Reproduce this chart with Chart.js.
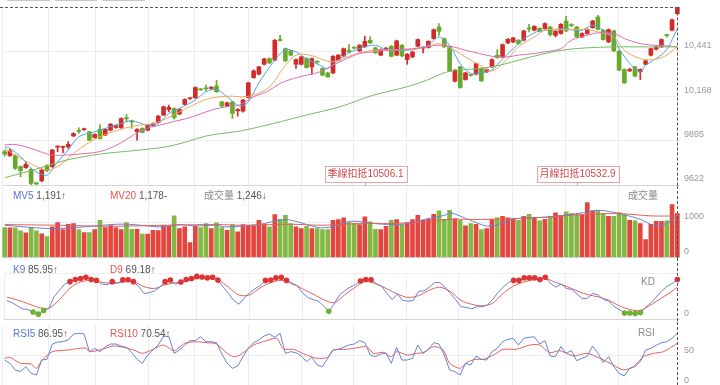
<!DOCTYPE html>
<html>
<head>
<meta charset="utf-8">
<script src="https://cdn.jsdelivr.net/npm/chart.js@4.4.0/dist/chart.umd.min.js"></script>
<style>
body { margin: 0; width: 720px; height: 385px; overflow: hidden; background: #fff; position: relative;
       font-family: "Liberation Sans", "Noto Sans CJK TC", sans-serif; }
canvas { position: absolute; left: 0; }
.lg { position: absolute; font-size: 10px; line-height: 12px; color: #555; white-space: nowrap; }
.b { color: #5a74d2; }
.r { color: #e0574f; }
.g { color: #888; }
.tab { position: absolute; top: 0; height: 1px; background: #c8c8c8; }
</style>
</head>
<body>
<div class="tab" style="left:7px;width:43px"></div>
<div class="tab" style="left:55px;width:42px"></div>
<div class="tab" style="left:102px;width:43px"></div>

<canvas id="priceChart" width="720" height="186" style="top:0"></canvas>
<canvas id="volChart" width="720" height="72" style="top:186px"></canvas>
<canvas id="kdChart" width="720" height="65" style="top:258px"></canvas>
<canvas id="rsiChart" width="720" height="66" style="top:322px"></canvas>

<div class="lg" style="left:13px;top:190px"><span class="b">MV5</span> 1,191↑</div>
<div class="lg" style="left:110px;top:190px"><span class="r">MV20</span> 1,178-</div>
<div class="lg" style="left:204px;top:190px"><span class="g">成交量</span> 1,246↓</div>
<div class="lg g" style="left:628px;top:190px">成交量</div>
<div class="lg" style="left:13px;top:264px"><span class="b">K9</span> 85.95↑</div>
<div class="lg" style="left:110px;top:264px"><span class="r">D9</span> 69.18↑</div>
<div class="lg g" style="left:641px;top:276px">KD</div>
<div class="lg" style="left:13px;top:328px"><span class="b">RSI5</span> 86.95↑</div>
<div class="lg" style="left:110px;top:328px"><span class="r">RSI10</span> 70.54↑</div>
<div class="lg g" style="left:638px;top:327px">RSI</div>

<script>
// Daily candles
const opens = [9827,9802,9802,9735,9728,9718,9636,9647,9741,9735,
  9855,9853,9857,9923,9955,9962,9949,9914,9964,9929,
  9959,9976,9974,10033,10013,9949,9970,9959,9986,10007,
  10052,10086,10092,10058,10117,10152,10158,10211,10217,10215,
  10231,10133,10107,10133,10078,10076,10160,10282,10303,10364,
  10399,10389,10514,10460,10446,10364,10364,10399,10348,10381,
  10338,10311,10311,10389,10415,10450,10467,10446,10471,10512,
  10465,10420,10458,10475,10420,10481,10393,10409,10475,10463,
  10467,10522,10593,10522,10471,10260,10348,10270,10299,10303,
  10338,10317,10348,10420,10409,10495,10501,10512,10512,10585,
  10573,10585,10583,10593,10542,10553,10630,10606,10593,10532,
  10553,10589,10655,10573,10501,10569,10444,10332,10323,10348,
  10317,10364,10420,10456,10471,10544,10573,10675];
const highs = [9837,9841,9808,9740,9765,9724,9640,9720,9748,9841,
  9863,9861,9888,9943,9974,9972,9953,9937,9994,9968,
  10000,9994,10035,10056,10021,9968,9974,9994,10004,10050,
  10107,10113,10096,10090,10152,10160,10225,10215,10236,10227,
  10266,10137,10131,10137,10092,10148,10254,10330,10352,10401,
  10403,10516,10542,10464,10450,10397,10413,10403,10403,10385,
  10342,10315,10417,10424,10464,10485,10471,10485,10538,10532,
  10469,10458,10466,10479,10512,10485,10430,10444,10520,10471,
  10509,10581,10614,10526,10475,10332,10352,10315,10303,10372,
  10342,10336,10397,10454,10489,10522,10530,10516,10573,10610,
  10601,10589,10618,10597,10571,10614,10659,10614,10597,10557,
  10583,10634,10665,10577,10581,10573,10448,10336,10340,10352,
  10336,10389,10464,10475,10520,10550,10642,10716];
const lows = [9800,9798,9718,9673,9724,9622,9622,9642,9704,9730,
  9827,9820,9847,9919,9939,9958,9894,9910,9904,9925,
  9955,9972,9970,10011,9970,9898,9941,9955,9982,10003,
  10048,10072,10027,10054,10113,10148,10154,10203,10201,10211,
  10191,10103,10103,10031,10045,10070,10156,10278,10299,10360,
  10368,10385,10506,10381,10416,10338,10360,10340,10303,10370,
  10293,10283,10307,10385,10411,10436,10459,10442,10467,10491,
  10430,10416,10454,10409,10416,10411,10364,10405,10471,10434,
  10463,10518,10542,10467,10319,10256,10217,10266,10291,10299,
  10258,10313,10344,10401,10405,10491,10497,10487,10508,10563,
  10569,10563,10579,10538,10532,10549,10565,10595,10528,10528,
  10549,10585,10575,10512,10497,10442,10324,10246,10319,10287,
  10270,10360,10416,10452,10467,10530,10569,10671];
const closes = [9812,9831,9724,9710,9749,9632,9628,9714,9710,9837,
  9859,9857,9872,9939,9951,9966,9898,9933,9908,9964,
  9996,9986,10031,10029,10009,9964,9945,9990,10000,10045,
  10103,10099,10037,10086,10148,10156,10221,10207,10213,10223,
  10195,10107,10127,10062,10086,10144,10250,10323,10348,10397,
  10372,10512,10510,10385,10420,10393,10409,10344,10399,10377,
  10297,10287,10413,10420,10460,10440,10463,10481,10505,10495,
  10434,10454,10462,10413,10508,10415,10426,10440,10516,10467,
  10505,10577,10567,10471,10323,10328,10221,10311,10295,10368,
  10262,10332,10393,10405,10485,10518,10526,10491,10569,10581,
  10597,10567,10614,10546,10567,10610,10569,10602,10532,10553,
  10579,10630,10579,10516,10577,10446,10328,10250,10332,10291,
  10332,10385,10460,10471,10516,10540,10638,10716];
const volumes = [849,840,840,755,698,859,755,670,594,868,
  991,793,944,963,793,708,708,793,1057,849,
  906,849,793,991,802,802,661,661,774,764,
  915,887,1180,821,868,424,887,849,963,821,
  982,849,774,934,727,934,887,896,1057,934,
  868,1217,1085,1199,963,868,821,887,821,821,
  793,793,1057,1076,1123,991,963,934,1151,1010,
  802,793,887,1057,1076,934,991,1076,1199,1057,
  1085,1227,1321,1085,1340,1104,1057,896,963,944,
  793,821,1076,1123,1170,1123,1104,1057,1170,1227,
  1123,1038,1085,1170,1265,1199,1293,1246,1227,1199,
  1557,1321,1340,1246,1170,1170,1274,1218,1057,1038,
  963,510,944,1029,1029,1038,1501,1246];

// Moving averages as [candle, value]
const ma5 = [[0,9857],[1,9847],[3,9796],[5.4,9714],[8,9683],[10,9765],[12,9837],[14,9919],[17,9949],[19,9970],
  [22,10000],[24,10017],[27,9990],[29,10000],[31,10062],[33,10092],[36,10144],[38,10195],[40,10209],[42,10164],
  [44.4,10107],[46,10133],[48,10250],[51,10389],[53,10454],[55,10440],[57,10399],[59.5,10358],[61,10338],[63,10389],
  [65,10434],[68,10471],[70,10481],[72,10454],[75,10450],[77,10454],[80,10481],[82,10532],[84,10481],[86,10368],
  [88,10307],[90,10312],[92,10328],[93.5,10379],[96,10460],[98.6,10532],[101,10569],[103.6,10577],[106,10583],
  [108.6,10569],[111,10604],[113,10573],[115,10532],[116,10460],[118,10370],[120,10317],[121,10358],[123,10399],
  [125,10454],[127,10583]];
const ma10 = [[0,9847],[3,9786],[5.4,9745],[8,9714],[10.5,9745],[13,9816],[15.5,9874],[18,9919],[20.5,9949],
  [23,9974],[25.5,9990],[28,10000],[30.6,10031],[33,10072],[35.6,10113],[38,10148],[40.6,10164],[43,10168],
  [44.4,10164],[47,10174],[50,10225],[52.6,10340],[55,10420],[57.6,10420],[60,10393],[62,10379],[64.6,10409],
  [67,10434],[69.6,10450],[72,10450],[74.6,10454],[77,10454],[79.7,10471],[82,10491],[84.7,10454],[87,10409],
  [89.7,10358],[92,10323],[95,10399],[97,10471],[100,10532],[102,10573],[105,10577],[107,10577],[110,10577],
  [112,10563],[115,10532],[117,10450],[120,10399],[122.5,10393],[125,10420],[127,10475]];
const ma20 = [[0,9867],[1.6,9872],[4,9857],[6.7,9827],[9,9806],[11.7,9806],[14,9812],[16.7,9820],[19,9837],
  [21.8,9878],[24.3,9929],[26.8,9970],[29.3,9990],[31.8,10011],[34.4,10031],[36.9,10058],[39.4,10086],
  [41.9,10103],[44.4,10115],[47,10164],[49.5,10195],[52,10246],[54.5,10276],[57,10297],[59.5,10317],[62,10358],
  [64.6,10399],[67,10430],[69.6,10440],[72,10450],[74.6,10454],[77,10460],[79.7,10471],[82,10481],[84.7,10471],
  [87,10450],[89.7,10430],[92,10413],[94.8,10409],[97,10420],[100,10430],[102,10440],[105,10460],[107,10512],
  [110,10542],[112,10557],[115,10553],[117,10522],[120,10491],[122.5,10481],[125,10477],[127,10471]];
const ma60 = [[0,9667],[5.4,9714],[11.7,9775],[18,9812],[24.3,9833],[30.6,9857],[34.4,9888],[38,9923],[42,9943],
  [44.4,9953],[50.7,10000],[57,10052],[63.3,10103],[69.6,10174],[75.9,10225],[79.7,10266],[83.5,10317],
  [87.2,10332],[89.7,10338],[93.5,10358],[97,10389],[102,10430],[106,10454],[110,10465],[115,10471],
  [120,10471],[127,10471]];

// Volume averages
const mv5 = [[0,915],[8.6,821],[14.9,868],[21.1,944],[24.3,934],[29.3,868],[33.1,934],[35.6,896],[40,915],
  [41.6,868],[47.9,934],[52.9,1076],[55.4,1010],[59.2,849],[61.7,868],[65.5,1029],[69.9,963],[73.1,934],
  [76.2,963],[79.4,1085],[83.1,1199],[84.1,1274],[87.9,1057],[91.6,887],[96.7,1104],[103,1151],[109.3,1274],
  [112.4,1340],[116.8,1218],[120,1085],[122.5,915],[124.4,934],[126.3,1104],[127,1191]];
const mv20 = [[0,934],[10,915],[20,887],[30,915],[40,934],[45,915],[54,944],[60,915],[67,963],[73,963],
  [79,1010],[84,1080],[90,1080],[97,1104],[103,1151],[109,1218],[116,1246],[122,1180],[127,1178]];

// KD
const k9 = [40.2,35.5,28.7,22.0,20.6,15.3,10.5,18.6,23.3,48.9,
  62.4,75.8,81.2,85.9,87.9,90.6,85.9,83.9,75.8,74.5,
  81.2,77.8,85.3,85.3,81.2,70.4,55.6,57.0,61.0,69.1,
  81.2,84.6,75.8,80.5,85.9,87.9,92.6,91.3,89.3,90.6,
  84.6,69.1,55.6,40.2,32.1,45.5,57.0,65.7,72.5,83.9,
  84.6,89.3,90.6,83.9,75.8,72.5,57.0,46.9,42.2,38.8,
  28.7,16.6,32.1,52.3,61.0,69.1,74.5,82.6,85.9,85.3,
  77.2,71.1,55.6,42.2,54.3,40.2,38.8,40.2,60.4,61.0,
  69.1,79.2,79.2,69.1,55.6,42.2,26.7,25.4,22.0,26.7,
  26.7,30.1,42.2,57.0,69.1,79.2,83.9,83.9,89.3,89.3,
  89.3,85.9,90.6,77.2,69.1,75.8,66.4,64.4,54.3,44.2,
  45.5,55.6,52.3,42.2,38.8,27.4,20.6,13.2,13.2,11.9,
  13.9,25.4,35.5,47.6,61.0,70.4,77.2,85.95];
const d9 = [[0,47.6],[2,41.5],[4,33.4],[6,25.4],[8,23.3],[10,42.2],[12,67.1],[14,80.5],[16,83.9],[18,79.9],
  [20,77.2],[22,79.9],[24,81.2],[26,70.4],[28,66.4],[30,74.5],[32,78.5],[34,82.6],[36,87.9],[38,89.3],
  [40,85.3],[42,69.1],[44,52.0],[46,52.3],[48,67.8],[50,79.2],[52,83.9],[54,78.5],[56,65.7],[58,54.3],
  [60,42.2],[62,35.5],[64,52.3],[66,69.1],[68,81.9],[70,75.8],[72,65.7],[74,54.3],[76,46.9],[78,50.9],
  [80,62.4],[82,69.1],[84,59.7],[86,40.8],[88,32.1],[90,28.7],[92,34.1],[94,55.6],[96,71.8],[98,80.5],
  [100,85.9],[102,87.9],[104,79.2],[106,71.1],[108,61.0],[110,53.0],[112,48.2],[114,40.8],[116,28.7],
  [118,20.6],[120,18.6],[122,30.8],[124,45.5],[126,60.4],[127,69.18]];

// RSI
const rsi5 = [43.0,37.6,26.7,24.0,32.1,21.2,18.5,43.0,44.1,69.2,
  72.5,73.0,75.8,85.6,86.7,85.6,56.7,62.1,56.7,64.9,
  69.2,69.2,65.9,63.8,55.0,44.1,37.6,51.2,59.4,67.6,
  82.3,81.2,53.9,59.4,67.6,74.7,74.7,81.2,73.0,73.0,
  71.4,52.9,37.6,29.4,33.2,48.5,62.1,71.4,75.8,82.3,
  85.6,80.1,86.7,53.9,56.7,55.0,49.6,40.3,47.4,34.9,
  32.1,45.8,59.4,60.5,63.8,67.6,69.2,74.7,71.4,51.2,
  48.5,52.9,54.0,37.6,63.8,43.0,43.0,45.8,67.6,53.9,
  60.5,71.4,69.2,51.2,26.7,24.0,18.5,37.6,34.9,49.6,
  44.1,43.0,56.7,62.1,73.0,76.9,78.5,67.6,78.5,80.1,
  81.2,69.2,74.7,49.6,48.5,64.9,54.0,58.3,41.9,45.8,
  49.6,66.0,54.0,38.7,48.5,32.1,21.2,16.9,29.4,32.1,
  40.3,59.4,62.1,67.0,71.4,73.0,78.5,86.95];
const rsi10 = [[0,45.8],[1,47.4],[3,37.6],[5,36.5],[6,29.4],[7,41.9],[9,56.7],[12,59.4],[14,62.1],[15.5,62.1],
  [16,56.7],[18,59.4],[20.5,66.0],[22.4,63.8],[24.3,59.4],[26,54.0],[28,60.5],[30,67.6],[32,58.3],[34,70.3],
  [36.2,73.0],[38,71.4],[40,69.2],[42,54.0],[43.2,48.5],[44.4,51.2],[47,67.6],[49.5,74.7],[51.4,78.5],
  [52.6,61.1],[54.5,60.5],[57,51.2],[59,45.8],[61,47.4],[62,59.4],[64.6,60.5],[67,63.8],[68.4,64.9],
  [69.6,54.0],[71.5,55.6],[73,48.5],[74,56.7],[76,51.2],[77.8,54.0],[79,55.0],[81,64.9],[82.8,59.4],
  [84,37.6],[86,29.4],[87.2,38.7],[88.8,44.1],[90.4,44.1],[92.3,51.2],[94.1,60.5],[96.6,60.5],[99.2,67.6],
  [101,67.6],[102.9,55.0],[104.8,58.3],[107.4,49.6],[109.9,54.0],[112.4,45.8],[114.9,34.9],[116.8,26.7],
  [118.7,32.1],[120.6,48.5],[122.5,54.0],[124.4,56.7],[127,70.54]];

// Axis ticks
const priceTicks = [9622, 9895, 10168, 10441];
const priceTickLabels = ['9622', '9895', '10,168', '10,441'];
const volTicks = [0, 1000];
const kdTicks = [0, 100];
const rsiTicks = [0, 50];
const gridAt = [-0.5, 8.2, 17.2, 27.1, 35.9, 46, 56.1, 65.8, 75.8, 85.6, 95.8, 105.8, 115.8];

// 扣抵 markers: candle index and price
const deductMarks = [
  { idx: 68, label: '季線扣抵', value: '10506.1' },
  { idx: 108, label: '月線扣抵', value: '10532.9' }
];

const FONT = '"Liberation Sans", "Noto Sans CJK TC", sans-serif';
const RED = '#cf2c2a', GREEN = '#67a92b';
const VRED = '#e2463f', VGREEN = '#82b843';
const BLUE = '#6a80d8', PINKRED = '#e0615a';
const last = closes.length - 1;

const upDown = closes.map((c, i) => c >= opens[i]);
const series = arr => arr.map((v, i) => ({ x: i, y: v }));
const pairs = arr => arr.map(([x, y]) => ({ x, y }));

function xAxis() {
  return {
    type: 'linear', min: -0.5, max: last + 0.5, offset: false,
    afterBuildTicks: s => { s.ticks = gridAt.map(v => ({ value: v })); },
    ticks: { display: false },
    grid: { color: '#ededed', drawTicks: false, offset: false },
    border: { display: false }
  };
}

function yAxis(min, max, ticks, labels, labelOffset) {
  return {
    position: 'right', min, max, beginAtZero: false,
    afterBuildTicks: s => { s.ticks = ticks.map(v => ({ value: v })); },
    afterFit: s => { s.width = 40; s.paddingTop = 0; s.paddingBottom = 0; },
    ticks: { padding: 4, color: '#999', font: { size: 9, family: FONT }, labelOffset,
             callback: (v, i) => labels[i] },
    grid: { color: ctx => ctx.index === 0 ? '#d6d6d6' : '#eeeeee', drawTicks: false },
    border: { display: false }
  };
}

function lineSet(data, color, tension) {
  return { type: 'line', data, borderColor: color, borderWidth: 1, pointRadius: 0,
           tension, fill: false, order: 1 };
}

const crosshair = {
  id: 'crosshair',
  afterDatasetsDraw(chart, args, opts) {
    const { ctx, scales: { x, y } } = chart;
    const px = Math.round(x.getPixelForValue(last)) + 0.5;
    ctx.save();
    ctx.strokeStyle = '#555';
    ctx.lineWidth = 1;
    ctx.setLineDash([3, 2]);
    ctx.beginPath();
    let top = 0;
    if (opts.price) {
      top = Math.round(y.getPixelForValue(closes[last])) + 0.5;
      ctx.moveTo(0, top);
      ctx.lineTo(px, top);
    }
    ctx.moveTo(px, top);
    ctx.lineTo(px, chart.height);
    ctx.stroke();
    ctx.restore();
  }
};

const deductPlugin = {
  id: 'deduct',
  afterDraw(chart) {
    const { ctx, chartArea, scales: { x } } = chart;
    ctx.save();
    ctx.font = '10px ' + FONT;
    ctx.textAlign = 'center';
    ctx.textBaseline = 'middle';
    deductMarks.forEach(m => {
      const cx = Math.round(x.getPixelForValue(m.idx)) + 0.5;
      const text = m.label + m.value;
      const w = Math.round(ctx.measureText(text).width) + 6;
      const bottom = chartArea.bottom - 3;
      const top = bottom - 16;
      ctx.fillStyle = '#fff';
      ctx.fillRect(cx - w / 2, top, w, 16);
      ctx.strokeStyle = '#e7a4a8';
      ctx.lineWidth = 1;
      ctx.strokeRect(Math.round(cx - w / 2) + 0.5, top + 0.5, w, 16);
      ctx.beginPath();
      ctx.moveTo(cx, bottom + 0.5);
      ctx.lineTo(cx, chartArea.bottom + 1);
      ctx.stroke();
      ctx.fillStyle = '#d24a4a';
      ctx.fillText(text, cx, top + 8.5);
    });
    ctx.restore();
  }
};

const common = {
  responsive: false, animation: false, events: [],
  plugins: { legend: { display: false }, tooltip: { enabled: false } }
};

// Price panel
new Chart(document.getElementById('priceChart'), {
  type: 'bar',
  data: {
    datasets: [
      { data: closes.map((c, i) => ({ x: i, y: [lows[i], highs[i]] })),
        backgroundColor: upDown.map(u => u ? RED : GREEN), barThickness: 1, grouped: false, order: 3 },
      { data: closes.map((c, i) => ({ x: i, y: [opens[i], c] })),
        backgroundColor: upDown.map(u => u ? RED : GREEN), barThickness: 4, minBarLength: 1,
        grouped: false, order: 2 },
      lineSet(pairs(ma60), '#74bd62', 0.35),
      lineSet(pairs(ma20), '#de6db5', 0.35),
      lineSet(pairs(ma10), '#f0a75e', 0.35),
      lineSet(pairs(ma5), '#4ea4e0', 0.3)
    ]
  },
  options: {
    ...common,
    layout: { padding: { left: 2, right: 0, top: 7, bottom: 1 } },
    scales: { x: xAxis(), y: yAxis(9622, 10716, priceTicks, priceTickLabels, -6) },
    plugins: { ...common.plugins, crosshair: { price: true } }
  },
  plugins: [crosshair, deductPlugin]
});

// Volume panel
new Chart(document.getElementById('volChart'), {
  type: 'bar',
  data: {
    datasets: [
      { data: series(volumes), backgroundColor: upDown.map(u => u ? VRED : VGREEN),
        barThickness: 4, grouped: false, order: 2 },
      lineSet(pairs(mv20), PINKRED, 0.3),
      lineSet(pairs(mv5), BLUE, 0.3)
    ]
  },
  options: {
    ...common,
    layout: { padding: { left: 2, right: 0, top: 1, bottom: 0.5 } },
    scales: { x: xAxis(), y: yAxis(0, 2000, volTicks, ['0', '1000'], -5.5) },
    plugins: { ...common.plugins, crosshair: {} }
  },
  plugins: [crosshair]
});

// KD panel
new Chart(document.getElementById('kdChart'), {
  type: 'line',
  data: {
    datasets: [
      { data: pairs(d9), borderColor: PINKRED, borderWidth: 1, pointRadius: 0, tension: 0.3, order: 2 },
      { data: series(k9), borderColor: BLUE, borderWidth: 1, tension: 0, clip: false, order: 1,
        pointRadius: ctx => (ctx.parsed.y > 80 || ctx.parsed.y < 20) ? 2.8 : 0,
        pointBackgroundColor: ctx => ctx.parsed.y > 80 ? '#dd3431' : '#6fb035',
        pointBorderWidth: 0 }
    ]
  },
  options: {
    ...common,
    layout: { padding: { left: 2, right: 0, top: 15, bottom: 0.5 } },
    scales: { x: xAxis(), y: yAxis(0, 100, kdTicks, ['0', ''], -5.5) },
    plugins: { ...common.plugins, crosshair: {} }
  },
  plugins: [crosshair]
});

// RSI panel
new Chart(document.getElementById('rsiChart'), {
  type: 'line',
  data: {
    datasets: [
      { data: pairs(rsi10), borderColor: PINKRED, borderWidth: 1, pointRadius: 0, tension: 0.25, order: 2 },
      { data: series(rsi5), borderColor: BLUE, borderWidth: 1, pointRadius: 0, tension: 0, order: 1 }
    ]
  },
  options: {
    ...common,
    layout: { padding: { left: 2, right: 0, top: 3.2, bottom: 1.7 } },
    scales: { x: xAxis(), y: yAxis(0, 100, rsiTicks, ['0', '50'], -5.5) },
    plugins: { ...common.plugins, crosshair: {} }
  },
  plugins: [crosshair]
});
</script>
</body>
</html>
